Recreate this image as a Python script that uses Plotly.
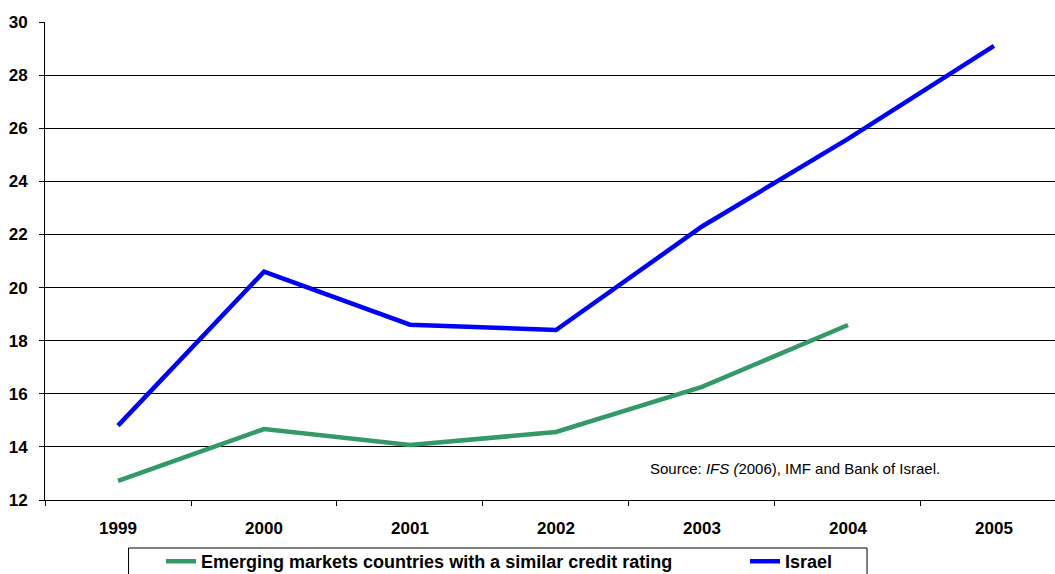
import plotly.graph_objects as go

years = ["1999", "2000", "2001", "2002", "2003", "2004", "2005"]
emerging = [12.72, 14.67, 14.07, 14.56, 16.26, 18.59, None]
israel = [14.8, 20.6, 18.6, 18.4, 22.3, 25.6, 29.1]
y_ticks = [12, 14, 16, 18, 20, 22, 24, 26, 28, 30]

font_family = "Liberation Sans, Arial, sans-serif"
legend_font = dict(size=18, family=font_family, weight="bold", color="black")

fig = go.Figure()
fig.add_trace(go.Scatter(
    x=years, y=emerging, mode="lines",
    name="Emerging markets countries with a similar credit rating",
    line=dict(color="#339966", width=4.5), legend="legend",
))
fig.add_trace(go.Scatter(
    x=years, y=israel, mode="lines", name="Israel",
    line=dict(color="#0000FF", width=4.5), legend="legend2",
))

fig.update_layout(
    width=1055, height=574,
    margin=dict(l=45, r=0, t=22, b=74, autoexpand=False),
    paper_bgcolor="white", plot_bgcolor="white",
    font=dict(family=font_family, color="black"),
    showlegend=True,
    legend=dict(
        orientation="h", x=0.1149, y=-0.09, xanchor="left", yanchor="top",
        borderwidth=0, bgcolor="rgba(0,0,0,0)", font=legend_font,
    ),
    legend2=dict(
        orientation="h", x=0.6931, y=-0.09, xanchor="left", yanchor="top",
        borderwidth=0, bgcolor="rgba(0,0,0,0)", font=legend_font,
    ),
    shapes=[dict(
        type="rect", xref="paper", yref="paper",
        x0=0.0827, x1=0.8139, y0=-0.1004, y1=-0.25,
        line=dict(color="black", width=1), fillcolor="white", layer="below",
    )],
    annotations=[dict(
        text="Source: <i>IFS (</i>2006), IMF and Bank of Israel.",
        xref="paper", yref="paper", x=0.597, y=0.0649,
        xanchor="left", yanchor="middle", showarrow=False,
        font=dict(size=15, family=font_family),
    )],
)
fig.update_xaxes(
    type="category", range=[-0.5, 6.418],
    showline=True, linecolor="black", linewidth=1,
    ticks="outside", tickson="boundaries", ticklen=5, tickcolor="black",
    showgrid=False, tickfont=dict(size=17, family=font_family, weight="bold"),
    ticklabelstandoff=13,
)
fig.update_yaxes(
    range=[12, 30], tickvals=y_ticks,
    showline=True, linecolor="black", linewidth=1,
    ticks="outside", ticklen=5, tickcolor="black",
    showgrid=True, gridcolor="black", gridwidth=1,
    zeroline=False,
    tickfont=dict(size=17, family=font_family, weight="bold"),
    ticklabelstandoff=8,
)

fig.write_html("out.html")
